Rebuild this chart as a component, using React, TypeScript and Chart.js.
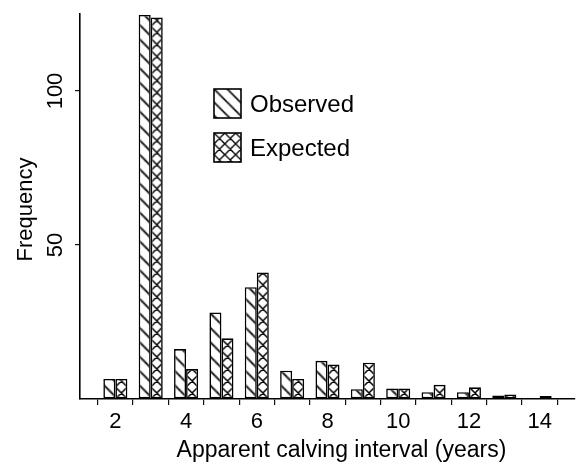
import React, { useEffect, useRef } from 'react';
import { Chart, registerables } from 'chart.js';

Chart.register(...registerables);

// ---- data ----
const categories = ['1', '2', '3', '4', '5', '6', '7', '8', '9', '10', '11', '12', '13', '14', '15'];
const observed = [null, 6.5, 124.7, 16.2, 28.1, 36.3, 9.2, 12.4, 3.2, 3.4, 2.2, 2.2, 1.1, null, null];
const expected = [null, 6.5, 123.9, 9.7, 19.7, 41.1, 6.5, 11.2, 11.8, 3.4, 4.6, 3.8, 1.5, 1.0, null];
const xTickLabels = ['2', '4', '6', '8', '10', '12', '14'];
const yTickValues = [50, 100];
const seriesNames = ['Observed', 'Expected'];
const xTitle = 'Apparent calving interval (years)';
const yTitle = 'Frequency';

const FONT = '"Liberation Sans", Arial, Helvetica, sans-serif';
const CAT_PCT = 0.68;
const TILE = 12;

const tiles: Record<string, HTMLCanvasElement> = {};
function getTile(kind: 'diag' | 'cross'): HTMLCanvasElement {
  if (tiles[kind]) return tiles[kind];
  const T = TILE;
  const c = document.createElement('canvas');
  c.width = T;
  c.height = T;
  const g = c.getContext('2d')!;
  g.fillStyle = '#fff';
  g.fillRect(0, 0, T, T);
  g.strokeStyle = '#000';
  g.lineWidth = 1.5;
  g.beginPath();
  g.moveTo(-2, -2); g.lineTo(T + 2, T + 2);
  g.moveTo(-2, T - 2); g.lineTo(2, T + 2);
  g.moveTo(T - 2, -2); g.lineTo(T + 2, 2);
  if (kind === 'cross') {
    g.moveTo(-2, T + 2); g.lineTo(T + 2, -2);
    g.moveTo(-2, 2); g.lineTo(2, -2);
    g.moveTo(T - 2, T + 2); g.lineTo(T + 2, T - 2);
  }
  g.stroke();
  tiles[kind] = c;
  return c;
}

function makePattern(ctx: CanvasRenderingContext2D, kind: 'diag' | 'cross', tx: number, ty: number, scale = 1) {
  const p = ctx.createPattern(getTile(kind), 'repeat')!;
  try {
    p.setTransform(new DOMMatrix([scale, 0, 0, scale, tx, ty]));
  } catch (e) {}
  return p;
}

function barFill(kind: 'diag' | 'cross', dsIndex: number) {
  return (c: any) => {
    const chart = c.chart;
    const xs = chart.scales && chart.scales.x;
    if (!xs || c.dataIndex == null || !chart.chartArea) return '#fff';
    const step = (xs.right - xs.left) / (categories.length - 1);
    const bw = (step * CAT_PCT) / 2;
    const px = xs.getPixelForValue(c.dataIndex);
    const left = dsIndex === 0 ? px - bw : px;
    const scale = kind === 'diag' ? (bw * 1.2) / TILE : bw / TILE;
    return makePattern(chart.ctx, kind, left, chart.chartArea.bottom, scale);
  };
}

const overlayPlugin = {
  id: 'overlay',
  afterDraw(chart: any) {
    const ctx = chart.ctx as CanvasRenderingContext2D;
    const ys = chart.scales.y;
    const area = chart.chartArea;
    ctx.save();
    ctx.fillStyle = '#000';

    // y tick labels (rotated)
    ctx.font = `22px ${FONT}`;
    ctx.textAlign = 'center';
    ctx.textBaseline = 'alphabetic';
    yTickValues.forEach((v) => {
      const py = ys.getPixelForValue(v);
      ctx.save();
      ctx.translate(area.left - 18, py);
      ctx.rotate(-Math.PI / 2);
      ctx.fillText(String(v), 0, 0);
      ctx.restore();
    });

    // y title
    ctx.save();
    ctx.font = `22px ${FONT}`;
    ctx.translate(area.left - 48, (area.top + area.bottom) / 2 + 3);
    ctx.rotate(-Math.PI / 2);
    ctx.fillText(yTitle, 0, 0);
    ctx.restore();

    // x title
    ctx.font = `23px ${FONT}`;
    ctx.textAlign = 'center';
    ctx.fillText(xTitle, (area.left + area.right) / 2 + 14, area.bottom + 58);

    // legend
    const lx = 214;
    const boxes = [
      { y: 89, kind: 'diag' as const, label: seriesNames[0] },
      { y: 133, kind: 'cross' as const, label: seriesNames[1] },
    ];
    boxes.forEach((b) => {
      const w = 27, h = 29;
      ctx.fillStyle = makePattern(ctx, b.kind, lx, b.y, b.kind === 'diag' ? 1.1 : 0.9);
      ctx.fillRect(lx, b.y, w, h);
      ctx.strokeStyle = '#000';
      ctx.lineWidth = 1.6;
      ctx.strokeRect(lx, b.y, w, h);
      ctx.fillStyle = '#000';
      ctx.font = `24px ${FONT}`;
      ctx.textAlign = 'left';
      ctx.textBaseline = 'alphabetic';
      ctx.fillText(b.label, lx + 36, b.y + 23);
    });
    ctx.restore();
  },
};

export default function App() {
  const ref = useRef<HTMLCanvasElement>(null);
  useEffect(() => {
    if (!ref.current) return;
    const chart = new Chart(ref.current, {
      type: 'bar',
      data: {
        labels: categories,
        datasets: [
          {
            label: seriesNames[0],
            data: observed as any,
            backgroundColor: barFill('diag', 0) as any,
            borderColor: '#000',
            borderWidth: 1.6,
            borderSkipped: false,
            categoryPercentage: CAT_PCT,
            barPercentage: 1,
          },
          {
            label: seriesNames[1],
            data: expected as any,
            backgroundColor: barFill('cross', 1) as any,
            borderColor: '#000',
            borderWidth: 1.6,
            borderSkipped: false,
            categoryPercentage: CAT_PCT,
            barPercentage: 1,
          },
        ],
      },
      options: {
        responsive: false,
        animation: false,
        layout: { padding: { left: 0, top: 14, right: 6, bottom: 0 } },
        plugins: { legend: { display: false }, tooltip: { enabled: false }, title: { display: false } },
        scales: {
          x: {
            type: 'category',
            offset: false,
            grid: {
              display: true,
              drawOnChartArea: false,
              drawTicks: true,
              tickLength: 6,
              color: '#111',
              lineWidth: 1.2,
            },
            border: { display: true, color: '#000', width: 1.6 },
            ticks: {
              autoSkip: false,
              maxRotation: 0,
              minRotation: 0,
              padding: 4,
              color: '#000',
              font: { family: FONT, size: 22 },
              callback: (_v: any, i: number) => (xTickLabels.includes(categories[i]) ? categories[i] : ''),
            },
            afterFit: (s: any) => {
              s.height = 65;
            },
          },
          y: {
            min: 0,
            max: 125,
            grid: {
              display: true,
              drawOnChartArea: false,
              drawTicks: true,
              tickLength: 5,
              color: (c: any) => (c.tick && yTickValues.includes(c.tick.value) ? '#111' : 'rgba(0,0,0,0)'),
              lineWidth: 1.2,
            },
            border: { display: true, color: '#000', width: 1.6 },
            ticks: { display: false, stepSize: 50 },
            afterFit: (s: any) => {
              s.width = 80;
            },
          },
        },
      },
      plugins: [overlayPlugin],
    });
    return () => chart.destroy();
  }, []);
  return (
    <div style={{ position: 'absolute', left: 0, top: 0, width: 581, height: 464, background: '#fff' }}>
      <canvas ref={ref} width={581} height={464} style={{ display: 'block' }} />
    </div>
  );
}
